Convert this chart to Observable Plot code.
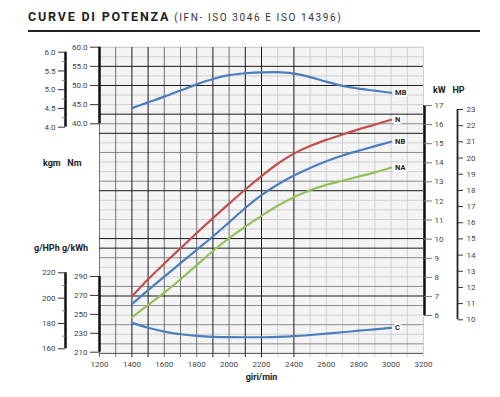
<!DOCTYPE html>
<html><head><meta charset="utf-8">
<script src="https://cdn.jsdelivr.net/npm/d3@7"></script>
<script src="https://cdn.jsdelivr.net/npm/@observablehq/plot@0.6"></script>
<style>
body{margin:0;background:#fff;font-family:Roboto,"DejaVu Sans",sans-serif;}
#wrap{position:relative;width:500px;height:397px;overflow:hidden;}
#wrap svg{position:absolute;left:0;top:0;}
.t{position:absolute;white-space:nowrap;font-weight:700;font-size:9px;color:#222;line-height:10px;}
</style></head><body>
<div id="wrap">
  <div class="t" style="left:28px;top:10px;font-size:12.5px;line-height:14px;letter-spacing:1.8px;color:#222">CURVE DI POTENZA<span style="font-weight:400;font-size:10px;letter-spacing:1.6px;color:#333;margin-left:4px">(IFN- ISO 3046 E ISO 14396)</span></div>
  <div style="position:absolute;left:28px;top:30px;width:452px;height:2px;background:#222"></div>
  <div class="t" style="left:43px;top:158px">kgm&nbsp;&nbsp;&nbsp;Nm</div>
  <div class="t" style="left:34px;top:243px">g/HPh g/kWh</div>
  <div class="t" style="left:433px;top:85px">kW&nbsp;&nbsp;&nbsp;HP</div>
</div>
<script>
// ---- data ----
const rpm = [1400,1500,1600,1700,1800,1900,2000,2100,2200,2300,2400,2500,2600,2700,2800,2900,3000];
const mbNm = [44.1,45.6,47.1,48.7,50.3,51.7,52.7,53.2,53.45,53.5,53.1,52.2,51.0,49.9,49.2,48.65,48.1];
const nKw  = [7.0,7.9,8.72,9.52,10.32,11.1,11.86,12.6,13.3,13.95,14.48,14.88,15.2,15.48,15.75,16.0,16.25];
const nbKw = [6.6,7.33,8.04,8.74,9.44,10.14,10.88,11.63,12.3,12.86,13.33,13.73,14.08,14.38,14.63,14.87,15.1];
const naKw = [5.9,6.55,7.2,7.9,8.64,9.38,10.05,10.66,11.22,11.75,12.2,12.56,12.84,13.06,13.28,13.5,13.74];
const cGkwh = [241,235.8,231.8,229.0,227.3,226.3,225.9,225.8,225.8,226.2,227.0,228.2,229.6,231.1,232.7,234.2,235.8];

const rpmTicks = [1200,1400,1600,1800,2000,2200,2400,2600,2800,3000,3200];
const nmTicks = [40,45,50,55,60];
const kgmTicks = [4.0,4.5,5.0,5.5,6.0];
const kwTicks = [6,7,8,9,10,11,12,13,14,15,16,17];
const hpTicks = [10,11,12,13,14,15,16,17,18,19,20,21,22,23];
const gkwhTicks = [210,230,250,270,290];
const ghphTicks = [160,180,200,220];

const series = (vals) => rpm.map((r,i)=>({rpm:r, v:vals[i]}));

// ---- layout ----
const W = 500, H = 397;
const wrap = document.getElementById("wrap");
const FONT = 'Roboto, "DejaVu Sans", sans-serif';
const M = {marginLeft:99, marginRight:77, marginTop:47, marginBottom:44};
const X = {domain:[1200,3200], range:[99,423], axis:null};
function mk(opts){
  const o = Object.assign({width:W, height:H}, M,
    {style:{background:"transparent", fontFamily:FONT, overflow:"visible"}}, opts);
  o.x = Object.assign({axis:null}, o.x);
  o.y = Object.assign({axis:null}, o.y);
  wrap.appendChild(Plot.plot(o));
}
const axisStyle = {fontSize:8, fill:"#444", stroke:"#333", label:null};
const CURVE = "monotone-x";

// ---- base grid ----
const hIdx = d3.range(0,33);
const blackH = [2,4,7,9,15,20,21,26], darkH = [8,11,14,22,25,27,29,31];
const vRpm = d3.range(1200,3201,100);
const blackV = [1400,1500,1900,2100,2200,2400], darkV = [1200,1300,1600,1700,1800,2000];
const lightH = hIdx.filter(i=>!blackH.includes(i)&&!darkH.includes(i));
const lightV = vRpm.filter(r=>!blackV.includes(r)&&!darkV.includes(r));
mk({
  x: X, y:{domain:[0,32], range:[46.7,352.9]},
  marks:[
    Plot.frame({fill:"#f4f4f4", stroke:"#d4d4d4"}),
    Plot.ruleY(lightH, {stroke:"#cfcfcf"}),
    Plot.ruleX(lightV, {stroke:"#cfcfcf", insetBottom:-4}),
    Plot.ruleY(darkH, {stroke:"#8a8a8a"}),
    Plot.ruleX(darkV, {stroke:"#6f6f6f", insetBottom:-4}),
    Plot.ruleY(blackH, {stroke:"#1a1a1a"}),
    Plot.ruleX(blackV, {stroke:"#1a1a1a", insetBottom:-4}),
    Plot.ruleY([32], {stroke:"#555"}),
    Plot.axisX({ticks:rpmTicks, tickFormat:d=>String(d), tickSize:0, tickPadding:8, fontSize:8, fill:"#444", label:null}),
    Plot.text(["giri/min"], {frameAnchor:"bottom", dy:26, fontWeight:"bold", fontSize:9, fill:"#222"})
  ]
});

const lbl = (d, t) => Plot.text(d, Plot.selectLast({x:"rpm", y:"v", text:()=>t, dx:4, textAnchor:"start", fontWeight:"bold", fontSize:7.5, fill:"#222", stroke:"white", strokeWidth:4}));

// ---- torque MB (Nm) ----
const mb = series(mbNm);
mk({
  x: X, y:{domain:[40,60], range:[123.3,46.7]},
  marks:[
    Plot.ruleX([1200], {y1:40, y2:60, stroke:"#111", strokeWidth:2.5}),
    Plot.axisY(Object.assign({anchor:"left", ticks:nmTicks, tickFormat:d=>d.toFixed(1), tickSize:9, tickPadding:3}, axisStyle)),
    Plot.line(mb, {x:"rpm", y:"v", stroke:"#4a7ebf", strokeWidth:2.2, curve:CURVE}),
    lbl(mb,"MB")
  ]
});

// ---- power N, NB, NA (kW) ----
const n = series(nKw), nb = series(nbKw), na = series(naKw);
mk({
  x: X, y:{domain:[6,17], range:[315,105]},
  marks:[
    Plot.ruleX([3200], {y1:6, y2:17, stroke:"#111", strokeWidth:2.5, dx:1}),
    Plot.axisY(Object.assign({anchor:"right", ticks:kwTicks, tickSize:8, tickPadding:3}, axisStyle, {stroke:"#777"})),
    Plot.line(n, {x:"rpm", y:"v", stroke:"#c0504d", strokeWidth:2.2, curve:CURVE}),
    Plot.line(nb, {x:"rpm", y:"v", stroke:"#4a7ebf", strokeWidth:2.2, curve:CURVE}),
    Plot.line(na, {x:"rpm", y:"v", stroke:"#92c15a", strokeWidth:2.2, curve:CURVE}),
    lbl(n,"N"), lbl(nb,"NB"), lbl(na,"NA")
  ]
});

// ---- consumption C (g/kWh) ----
const c = series(cGkwh);
mk({
  x: X, y:{domain:[210,290], range:[351.7,276]},
  marks:[
    Plot.ruleX([1200], {y1:210, y2:290, stroke:"#111", strokeWidth:2.5}),
    Plot.axisY(Object.assign({anchor:"left", ticks:gkwhTicks, tickSize:9, tickPadding:3}, axisStyle)),
    Plot.line(c, {x:"rpm", y:"v", stroke:"#4a7ebf", strokeWidth:2.2, curve:CURVE}),
    lbl(c,"C")
  ]
});

// ---- kgm axis ----
const minor = (t) => t.slice(1).map((v,i)=>(v+t[i])/2);
mk({
  marginLeft:65, x:{domain:[0,1]}, y:{domain:[4,6], range:[126.7,51.7]},
  marks:[
    Plot.ruleX([0], {y1:4, y2:6, stroke:"#111", strokeWidth:2.5}),
    Plot.axisY(Object.assign({anchor:"left", ticks:kgmTicks, tickFormat:d=>d.toFixed(1), tickSize:7, tickPadding:3}, axisStyle)),
    Plot.axisY(Object.assign({anchor:"left", ticks:minor(kgmTicks), tickFormat:()=>"", tickSize:3}, axisStyle, {stroke:"#888"}))
  ]
});

// ---- g/HPh axis ----
mk({
  marginLeft:65, x:{domain:[0,1]}, y:{domain:[160,220], range:[348.3,272.3]},
  marks:[
    Plot.ruleX([0], {y1:160, y2:220, stroke:"#111", strokeWidth:2.5}),
    Plot.axisY(Object.assign({anchor:"left", ticks:ghphTicks, tickSize:7, tickPadding:3}, axisStyle)),
    Plot.axisY(Object.assign({anchor:"left", ticks:minor(ghphTicks), tickFormat:()=>"", tickSize:3}, axisStyle, {stroke:"#888"}))
  ]
});

// ---- HP axis ----
mk({
  marginLeft:400, marginRight:43, x:{domain:[0,1]}, y:{domain:[10,23], range:[319.3,109]},
  marks:[
    Plot.ruleX([1], {y1:10, y2:23, stroke:"#222", strokeWidth:1.8}),
    Plot.axisY(Object.assign({anchor:"right", ticks:hpTicks, tickSize:5, tickPadding:4}, axisStyle))
  ]
});
</script>
</body></html>
